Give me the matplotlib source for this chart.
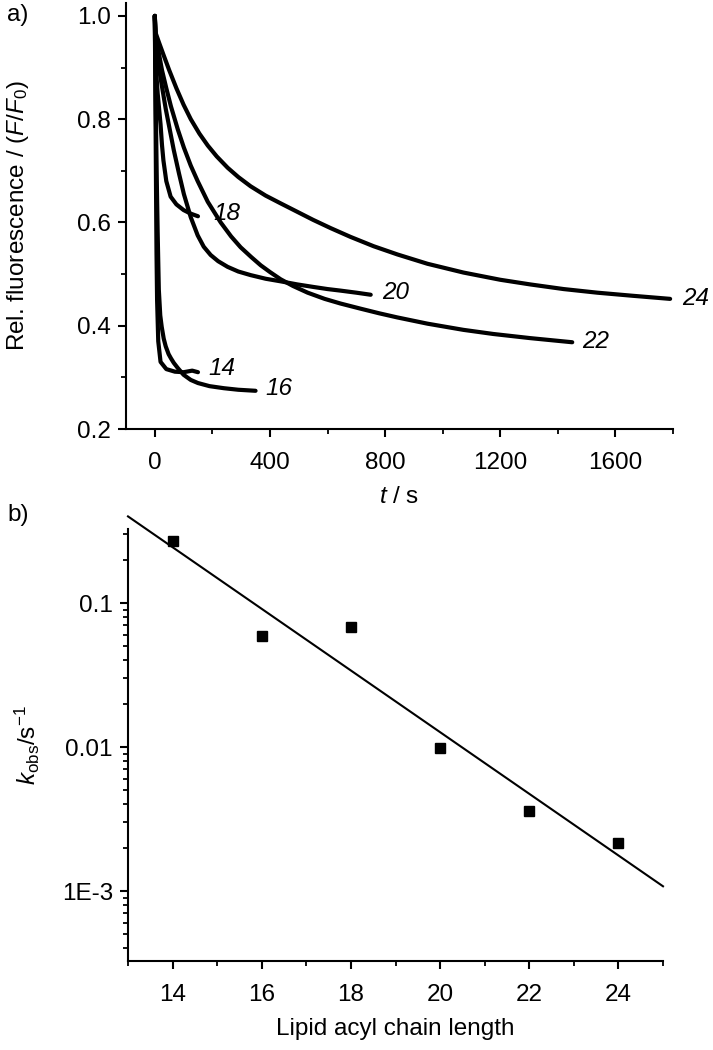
import matplotlib
matplotlib.use("Agg")
import matplotlib.pyplot as plt
from matplotlib.ticker import FixedLocator, LogLocator, NullFormatter

# ---------------- data: panel a (relative fluorescence traces) ----------------
t14 = [0, 1, 2, 3, 4, 5, 6, 8, 12, 20, 40, 70, 100, 130, 150]
f14 = [1.0, 0.93, 0.85, 0.77, 0.69, 0.61, 0.54, 0.45, 0.37, 0.33, 0.316, 0.311, 0.31, 0.313, 0.31]

t16 = [0, 2, 4, 7, 10, 14, 19, 24, 31, 38, 48, 56, 66, 80, 100, 125, 150, 190, 240, 290, 350]
f16 = [1.0, 0.90, 0.80, 0.68, 0.58, 0.47, 0.42, 0.398, 0.375, 0.36, 0.345, 0.337, 0.328, 0.318, 0.305,
       0.295, 0.289, 0.283, 0.279, 0.276, 0.274]

t18 = [0, 2, 5, 10, 15, 20, 25, 30, 40, 55, 75, 100, 125, 150]
f18 = [1.0, 0.94, 0.89, 0.85, 0.82, 0.79, 0.75, 0.72, 0.68, 0.65, 0.635, 0.624, 0.617, 0.612]

t20 = [0, 3, 10, 20, 38, 52, 66, 84, 101, 125, 149, 170, 194, 220, 253, 290, 333, 385, 437, 495,
       552, 600, 645, 700, 750]
f20 = [1.0, 0.95, 0.915, 0.88, 0.82, 0.78, 0.74, 0.695, 0.655, 0.61, 0.575, 0.553, 0.537, 0.525,
       0.514, 0.505, 0.498, 0.491, 0.486, 0.48, 0.475, 0.471, 0.468, 0.464, 0.46]

t22 = [0, 3, 10, 25, 40, 56, 80, 101, 125, 149, 184, 229, 265, 298, 335, 368, 400, 437, 480, 531,
       590, 645, 715, 780, 843, 947, 1072, 1176, 1304, 1450]
f22 = [1.0, 0.965, 0.94, 0.895, 0.86, 0.825, 0.78, 0.745, 0.71, 0.68, 0.64, 0.60, 0.573, 0.552,
       0.533, 0.517, 0.504, 0.490, 0.477, 0.464, 0.452, 0.443, 0.433, 0.424, 0.416, 0.404, 0.392,
       0.384, 0.376, 0.368]

t24 = [0, 3, 15, 30, 50, 75, 100, 125, 155, 184, 215, 253, 290, 333, 385, 437, 490, 550, 611, 680,
       760, 843, 947, 1072, 1200, 1304, 1420, 1537, 1660, 1790]
f24 = [1.0, 0.967, 0.948, 0.925, 0.895, 0.86, 0.828, 0.80, 0.772, 0.749, 0.728, 0.706, 0.688, 0.670,
       0.652, 0.637, 0.622, 0.605, 0.589, 0.572, 0.554, 0.538, 0.520, 0.503, 0.489, 0.480, 0.471,
       0.464, 0.458, 0.452]

chain_labels = ["14", "16", "18", "20", "22", "24"]
label_t = [185, 385, 205, 790, 1485, 1832]
label_f = [0.318, 0.279, 0.618, 0.465, 0.370, 0.452]

# ---------------- data: panel b (rate constants) ----------------
chain_len = [14, 16, 18, 20, 22, 24]
k_obs = [0.27, 0.059, 0.068, 0.0098, 0.0036, 0.00216]
fit_x = [13, 25]
fit_y = [0.40, 1.08e-3]

# ---------------- style ----------------
plt.rcParams['font.family'] = ['Liberation Sans', 'DejaVu Sans']
plt.rcParams['mathtext.fontset'] = 'custom'
plt.rcParams['mathtext.rm'] = 'Liberation Sans'
plt.rcParams['mathtext.it'] = 'Liberation Sans:italic'
plt.rcParams['mathtext.bf'] = 'Liberation Sans:bold'
FS = 17.5

W, H = 713, 1050
fig = plt.figure(figsize=(W / 100, H / 100), dpi=100)

def frac_axes(l, t, r, b):
    return fig.add_axes([l / W, 1 - b / H, (r - l) / W, (b - t) / H])

ax1 = frac_axes(126, 3, 673, 429)
ax2 = frac_axes(128, 529, 663, 961)

for ax in (ax1, ax2):
    for s in ("top", "right"):
        ax.spines[s].set_visible(False)
    for s in ("left", "bottom"):
        ax.spines[s].set_linewidth(1.5)
    ax.tick_params(which="major", direction="out", length=5.8, width=1.5, labelsize=FS)
    ax.tick_params(which="minor", direction="out", length=3.3, width=1.3)
    ax.tick_params(axis="x", which="major", pad=11)
    ax.tick_params(axis="y", which="major", pad=5)

# ---- panel a ----
series = [(t14, f14), (t16, f16), (t18, f18), (t20, f20), (t22, f22), (t24, f24)]
for t, f in series:
    ax1.plot(t, f, color="black", lw=3.0, solid_capstyle="round", solid_joinstyle="round")
for lab, lt, lf in zip(chain_labels, label_t, label_f):
    ax1.text(lt, lf, lab, fontsize=FS, style="italic", ha="left", va="center", clip_on=False)

ax1.set_xlim(-100, 1800)
ax1.set_ylim(0.2, 1.025)
ax1.xaxis.set_major_locator(FixedLocator([0, 400, 800, 1200, 1600]))
ax1.xaxis.set_minor_locator(FixedLocator([200, 600, 1000, 1400, 1800]))
ax1.yaxis.set_major_locator(FixedLocator([0.2, 0.4, 0.6, 0.8, 1.0]))
ax1.yaxis.set_minor_locator(FixedLocator([0.3, 0.5, 0.7, 0.9]))
ax1.set_yticklabels(["0.2", "0.4", "0.6", "0.8", "1.0"])
ax1.set_xlabel("$t$ / s", fontsize=FS)
ax1.set_ylabel("Rel. fluorescence / ($F$/$F_\\mathrm{0}$)", fontsize=FS)
ax1.xaxis.set_label_coords(0.5, -(486 - 429) / 426)
ax1.yaxis.set_label_coords(-(126 - 31) / 547, 0.5)

# ---- panel b ----
ax2.set_yscale("log")
ax2.plot(fit_x, fit_y, color="black", lw=1.5, clip_on=False)
ax2.plot(chain_len, k_obs, linestyle="none", marker="s", markersize=6.8, color="black")
ax2.set_xlim(13, 25)
ax2.set_ylim(3.27e-4, 0.327)
ax2.xaxis.set_major_locator(FixedLocator([14, 16, 18, 20, 22, 24]))
ax2.xaxis.set_minor_locator(FixedLocator([13, 15, 17, 19, 21, 23, 25]))
ax2.yaxis.set_major_locator(FixedLocator([1e-3, 1e-2, 1e-1]))
ax2.set_yticklabels(["1E-3", "0.01", "0.1"])
ax2.yaxis.set_minor_locator(LogLocator(base=10, subs=range(2, 10)))
ax2.yaxis.set_minor_formatter(NullFormatter())
ax2.set_xlabel("Lipid acyl chain length", fontsize=FS)
ax2.set_ylabel("$k_\\mathrm{obs}$/s$^{-1}$", fontsize=FS)
ax2.xaxis.set_label_coords(0.5, -(1018 - 961) / 432)
ax2.yaxis.set_label_coords(-(128 - 42) / 535, 0.5)

fig.text(7 / W, 1 - 15 / H, "a)", fontsize=FS, ha="left", va="center")
fig.text(7 / W, 1 - 515 / H, "b)", fontsize=FS, ha="left", va="center")

fig.savefig("out.png", dpi=100)
